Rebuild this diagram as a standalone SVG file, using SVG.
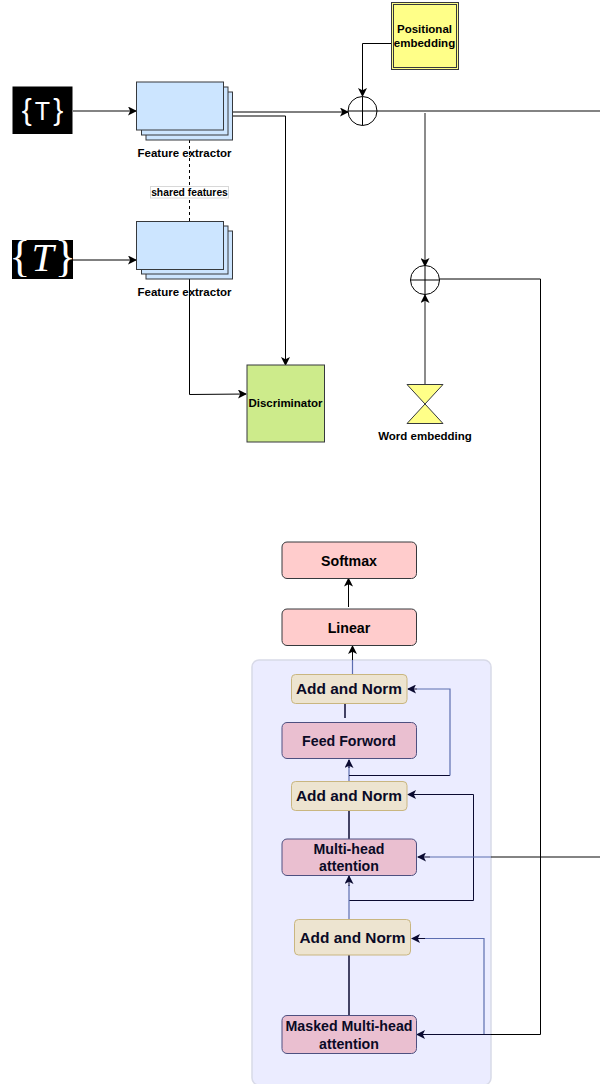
<svg xmlns="http://www.w3.org/2000/svg" width="600" height="1084" viewBox="0 0 600 1084">
<style>
text{font-family:"Liberation Sans",Arial,sans-serif;font-weight:bold;text-anchor:middle;fill:#000}
.b{fill:#cce5ff;stroke:#36393d}
.s{font-size:11.5px}
.m{font-size:14.2px}
.n{font-size:15.4px}
.d{fill:#0a0a26}
.r{fill:#ffcccc;stroke:#36393d}
.p{fill:#eabfd0;stroke:#4e5080}
.a{fill:#ede4d0;stroke:#c9b680}
.l{fill:none;stroke:#000}
.y{fill:none;stroke:#000;stroke-opacity:.65;stroke-width:1.4}
.g{fill:none;stroke:#5c6eb0;stroke-width:1.2}
.k{fill:none;stroke:#0a0a30}
</style>
<defs>
<marker id="ah" markerWidth="9" markerHeight="9" refX="8" refY="4.500" orient="auto" markerUnits="userSpaceOnUse"><path d="M0 0L9 4.500L0 9L2.200 4.500Z" fill="#000"/></marker>
<marker id="an" markerWidth="9" markerHeight="9" refX="8" refY="4.500" orient="auto" markerUnits="userSpaceOnUse"><path d="M0 0L9 4.500L0 9L2.200 4.500Z" fill="#0a0a30"/></marker>
</defs>
<rect id="panel" x="252" y="660" width="239" height="425" rx="7" fill="#ebecff" stroke="#d8dae8" stroke-width="1.500"/>
<g id="connectors">
<path class="y" d="M73 111H136" marker-end="url(#ah)"/>
<path class="l" d="M72 260H136" marker-end="url(#ah)"/>
<path class="l" d="M189.500 140V221" stroke-dasharray="3 3"/>
<path class="l" d="M232 112H348" marker-end="url(#ah)"/>
<path class="l" d="M232 116H285.500V365" marker-end="url(#ah)"/>
<path class="l" d="M391 43.500H362.500V96" marker-end="url(#ah)"/>
<path class="y" d="M377 111H600"/>
<path class="y" d="M425 113V266" marker-end="url(#ah)"/>
<path class="y" d="M425 384V295" marker-end="url(#ah)"/>
<path class="l" d="M189.500 270V394.500L246 394" marker-end="url(#ah)"/>
<path class="l" d="M439.500 279H540.500V1034.500H491"/>
<path class="k" d="M491 1034.500H417" marker-end="url(#an)"/>
<path class="l" d="M348.500 607V578.500" marker-end="url(#ah)"/>
<path class="l" d="M352.500 660V646" marker-end="url(#ah)"/>
<path class="g" d="M352.500 674V660"/>
<path class="k" d="M345 704V718" stroke-width="1.500"/>
<path class="g" d="M349 781V760"/>
<path class="k" d="M349 768V760" marker-end="url(#an)"/>
<path class="k" d="M349 775.500H450"/>
<path class="g" d="M450 775.500V689H417"/>
<path class="k" d="M417 689H408" marker-end="url(#an)"/>
<path class="k" d="M349 810V839" stroke-width="1.500"/>
<path class="k" d="M349 900.500H473.500V794.500H408" marker-end="url(#an)"/>
<path class="y" d="M600 857H491"/>
<path class="g" d="M491 857H430"/>
<path class="k" d="M430 857H418" marker-end="url(#an)"/>
<path class="g" d="M349 919V885"/>
<path class="k" d="M349 886V876" marker-end="url(#an)"/>
<path class="k" d="M349 955V1015" stroke-width="1.500"/>
<path class="g" d="M484 1034V938.500H425"/>
<path class="k" d="M425 938.500H412" marker-end="url(#an)"/>
</g>
<g id="input-handwritten"><rect x="12.500" y="86.500" width="60" height="47.500" fill="#000"/><text x="42.500" y="120" style="fill:#fff;font-family:'Liberation Sans',sans-serif;font-weight:normal"><tspan font-size="30">{</tspan><tspan font-size="25" dx="3">T</tspan><tspan font-size="30" dx="3">}</tspan></text></g>
<g id="input-printed"><rect x="12" y="240" width="61" height="39" fill="#000"/><text x="42.500" y="271" style="fill:#fff;font-family:'Liberation Serif',serif;font-weight:normal"><tspan font-size="44">{</tspan><tspan font-size="40" font-style="italic" dx="1">T</tspan><tspan font-size="44" dx="1">}</tspan></text></g>
<g id="feature-extractor-1"><rect class="b" x="146" y="92" width="86.500" height="48"/><rect class="b" x="141.500" y="87" width="86.500" height="48"/><rect class="b" x="136.500" y="82" width="87" height="48"/><text class="s" x="184.500" y="156.500">Feature extractor</text></g>
<g id="feature-extractor-2"><rect class="b" x="146" y="231" width="86.500" height="48"/><rect class="b" x="141.500" y="226" width="86.500" height="48"/><rect class="b" x="136.500" y="221.500" width="87" height="48"/><text class="s" x="184.500" y="296">Feature extractor</text></g>
<g id="shared-features"><rect x="150.500" y="186.500" width="78" height="11.500" fill="#fff" stroke="#d8d8d8"/><text x="189.500" y="195.500" font-size="10.300">shared features</text></g>
<g id="positional-embedding"><rect x="391.500" y="2.500" width="67" height="67" fill="#ffff88" stroke="#36393d"/><rect x="393.500" y="4.500" width="63" height="63" fill="none" stroke="#36393d"/><text class="s" x="424.500" y="33">Positional</text><text class="s" x="424.500" y="47">embedding</text></g>
<g id="add-top"><circle cx="362.500" cy="111" r="14.500" fill="#fff" stroke="#000"/><path class="l" d="M348 111H377M362.500 96.500V125.500"/></g>
<g id="add-bottom"><circle cx="425" cy="280" r="14.500" fill="#fff" stroke="#000"/><path class="l" d="M410.500 280H439.500M425 265.500V294.500"/></g>
<g id="discriminator"><rect x="247" y="365" width="77.500" height="77" fill="#cdeb8b" stroke="#36393d"/><text class="s" x="285.500" y="407">Discriminator</text></g>
<g id="word-embedding"><path d="M407 384.500H443L407 423.500H443Z" fill="#ffff88" stroke="#36393d"/><text class="s" x="425" y="440">Word embedding</text></g>
<g id="softmax"><rect class="r" x="282" y="542" width="134.500" height="36.500" rx="5"/><text class="m" x="349" y="565.500">Softmax</text></g>
<g id="linear"><rect class="r" x="282" y="609" width="134.500" height="36.500" rx="5"/><text class="m" x="349" y="632.500">Linear</text></g>
<g id="add-norm-3"><rect class="a" x="291.500" y="674.500" width="115.500" height="29" rx="4"/><text class="n d" x="349" y="694">Add and Norm</text></g>
<g id="feed-forward"><rect class="p" x="282" y="722.500" width="134.500" height="36" rx="5"/><text class="m d" x="349" y="746">Feed Forword</text></g>
<g id="add-norm-2"><rect class="a" x="291.500" y="781.500" width="115.500" height="29" rx="4"/><text class="n d" x="349" y="801">Add and Norm</text></g>
<g id="multi-head"><rect class="p" x="282" y="839" width="134.500" height="36.500" rx="5"/><text class="m d" x="349" y="853.500">Multi-head</text><text class="m d" x="349" y="871">attention</text></g>
<g id="add-norm-1"><rect class="a" x="294.500" y="919.500" width="116" height="35.500" rx="4"/><text class="n d" x="352.500" y="943">Add and Norm</text></g>
<g id="masked"><rect class="p" x="282" y="1015.500" width="134.500" height="38" rx="5"/><text class="m d" x="349" y="1031">Masked Multi-head</text><text class="m d" x="349" y="1048.500">attention</text></g>
</svg>
